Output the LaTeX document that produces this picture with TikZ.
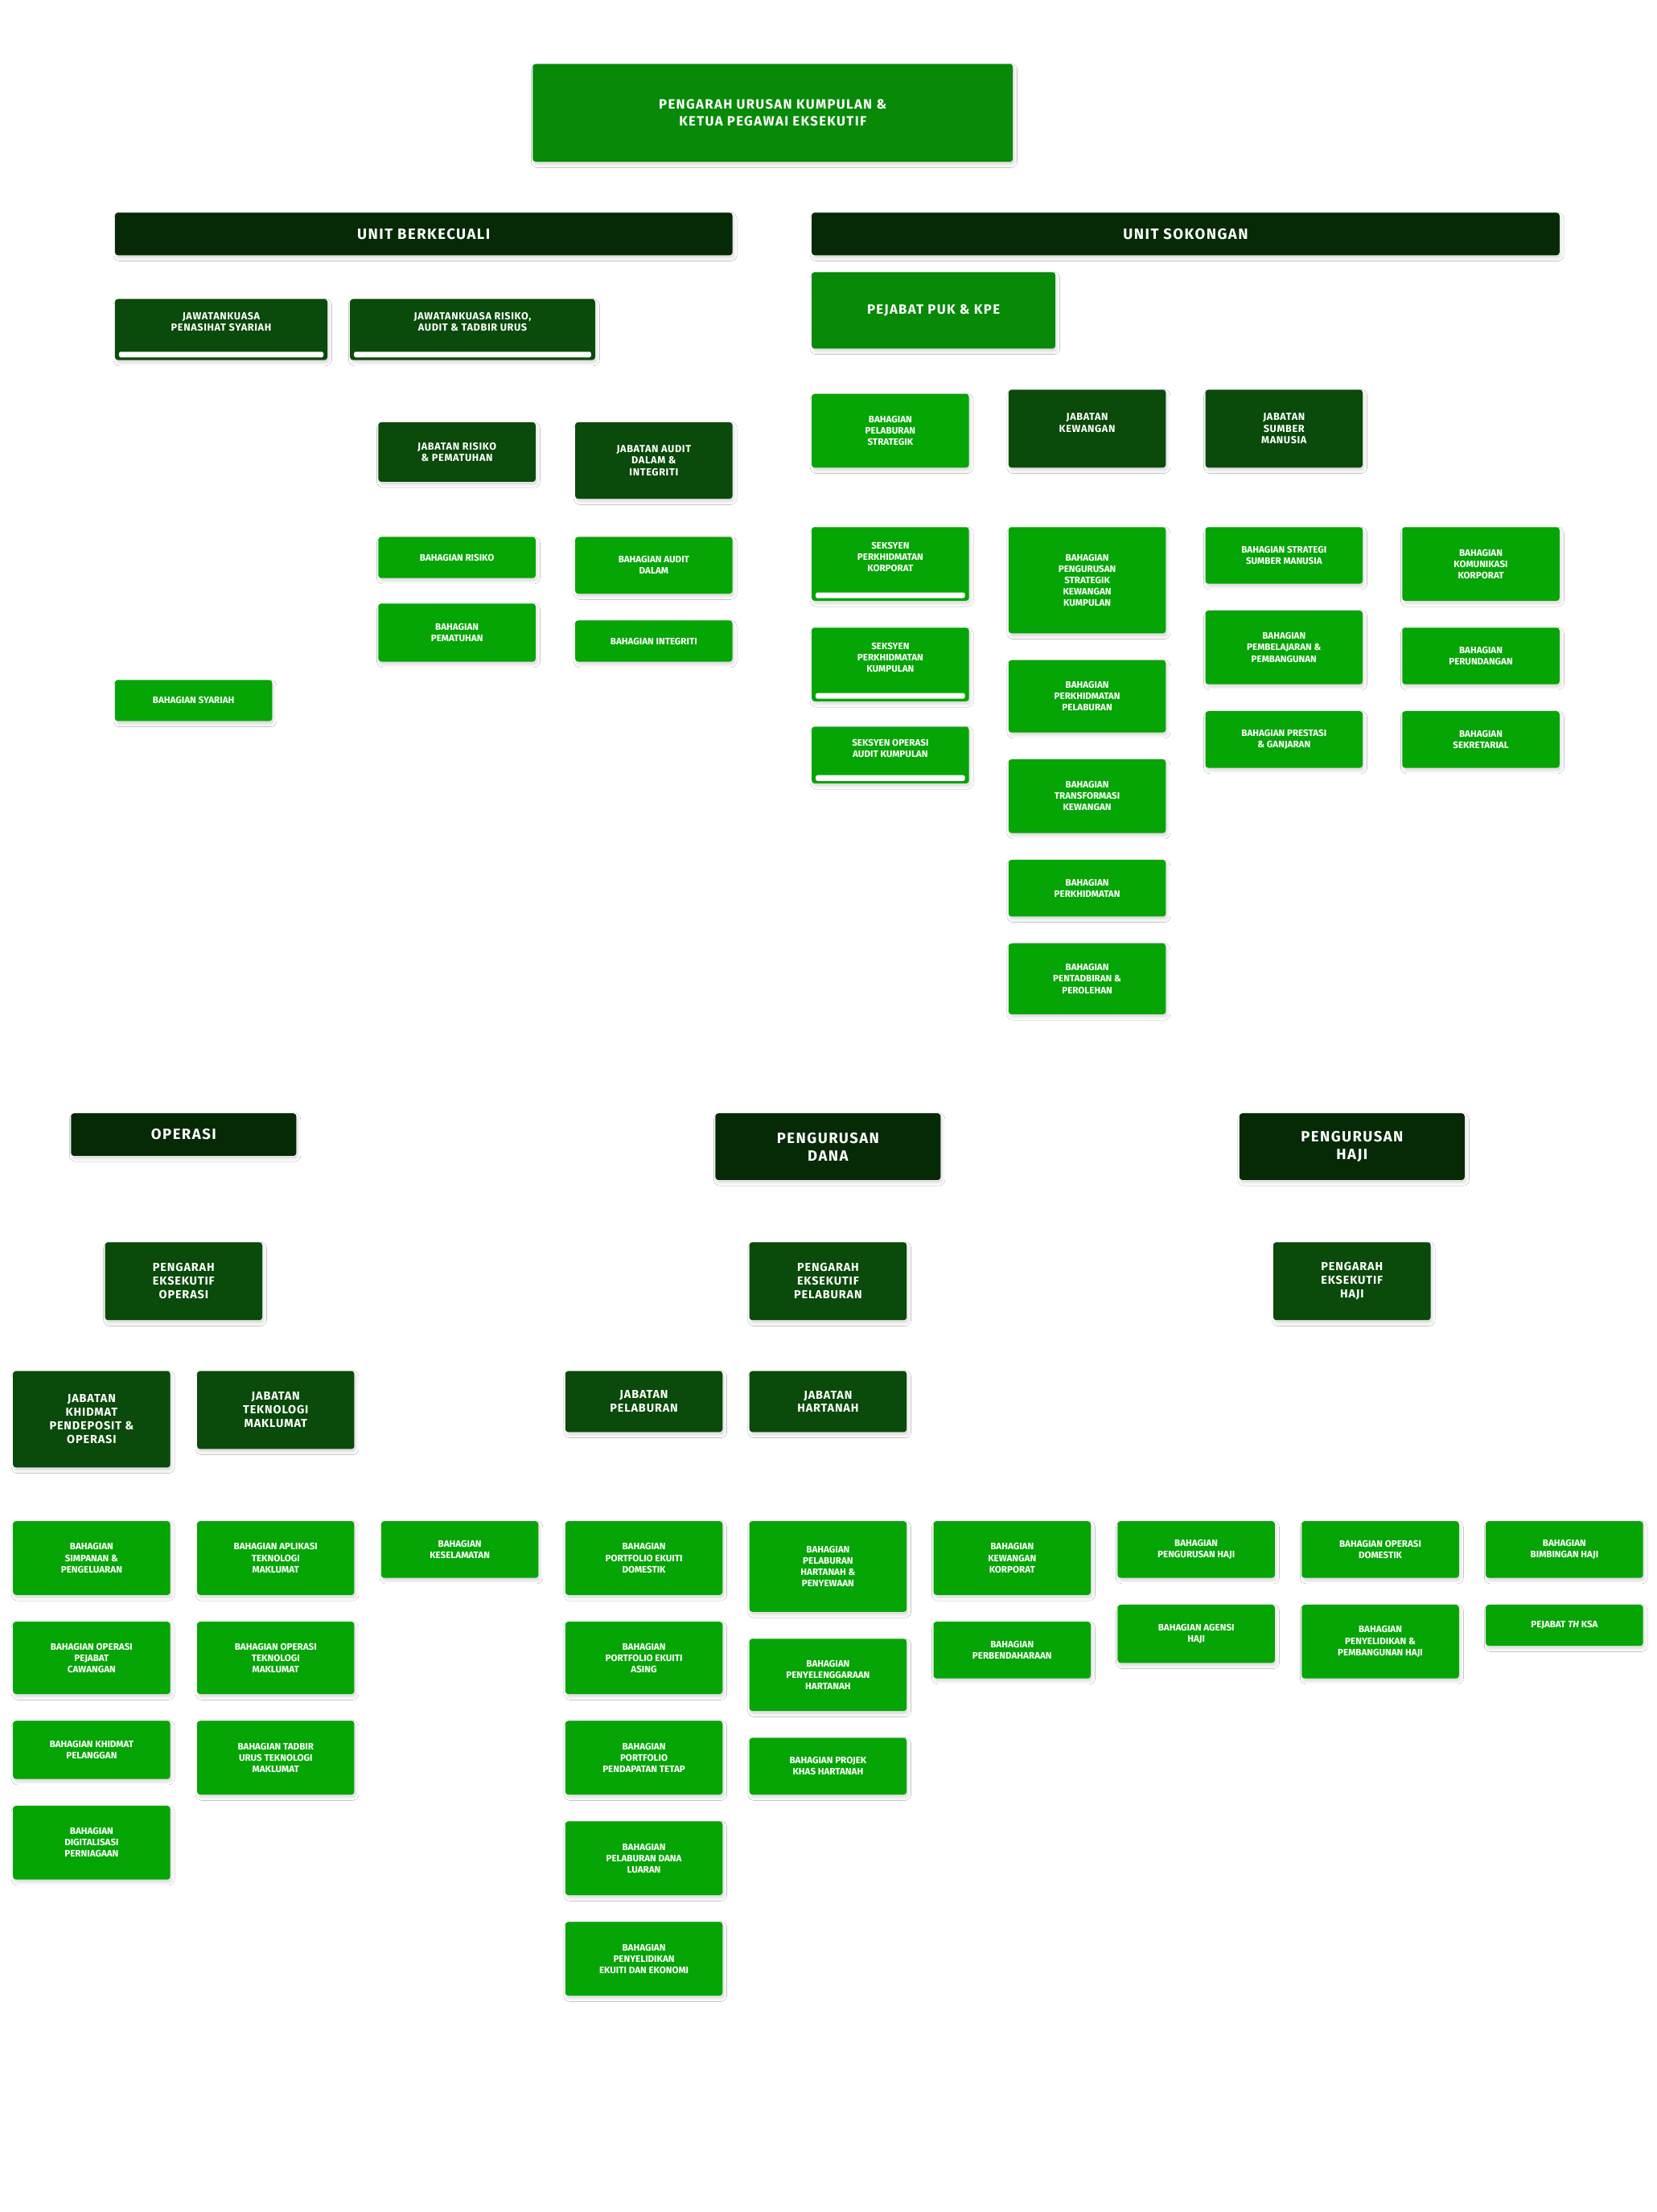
\documentclass[tikz,border=0pt]{standalone}
\usepackage{fontspec}
\setmainfont{Fira Sans}
\usetikzlibrary{calc,shadows.blur,backgrounds}
\definecolor{cb}{HTML}{06A506}
\definecolor{cd}{HTML}{0A4A0A}
\definecolor{ch}{HTML}{052A05}
\definecolor{cm}{HTML}{088A08}
\definecolor{cl}{HTML}{9A9A9A}
\newcommand\bx[7]{\node[#6,minimum width=#4pt,minimum height=#5pt,anchor=north west] (#1) at (#2,#3) {#7};}
\newcommand\wbar[1]{\fill[white,rounded corners=1pt] ($(#1.south west)+(3,-2)$) rectangle ($(#1.south east)+(-3,-6)$);}
\tikzset{
 base/.style={rounded corners=2pt,text=white,align=center,inner sep=1pt,blur shadow={shadow blur steps=5,shadow xshift=1pt,shadow yshift=-2pt,shadow opacity=15}},
 bb/.style={base,fill=cb,font=\fontsize{6.6}{8}\selectfont\bfseries},
 bd/.style={base,fill=cd,font=\fontsize{8.2}{9.6}\selectfont\bfseries\addfontfeature{LetterSpace=6}},
 bdd/.style={base,fill=cd,font=\fontsize{7.2}{8.2}\selectfont\bfseries\addfontfeature{LetterSpace=5}},
 bh/.style={base,fill=ch,font=\fontsize{10.5}{12.5}\selectfont\bfseries\addfontfeature{LetterSpace=8}},
 bm/.style={base,fill=cm,font=\fontsize{9.5}{11.5}\selectfont\bfseries\addfontfeature{LetterSpace=8}},
 ln/.style={draw=cl,line width=1.6pt},
 dl/.style={draw=cl,line width=1.6pt,dash pattern=on 2.5pt off 1.5pt},
}
\begin{document}
\begin{tikzpicture}[x=1pt,y=-1pt]
\useasboundingbox[fill=white] (0,0) rectangle (1170,1562);
% top
\bx{top}{376}{45}{339}{69}{bm}{PENGARAH URUSAN KUMPULAN \&\\KETUA PEGAWAI EKSEKUTIF}
\bx{ub}{81}{150}{436}{30}{bh}{UNIT BERKECUALI}
\bx{us}{573}{150}{528}{30}{bh}{UNIT SOKONGAN}
% unit berkecualai
\bx{jps}{81}{211}{150}{43}{bdd}{JAWATANKUASA\\PENASIHAT SYARIAH\\[3pt]}
\bx{jkr}{247}{211}{173}{43}{bdd}{JAWATANKUASA RISIKO,\\AUDIT \& TADBIR URUS\\[3pt]}
\wbar{jps}\wbar{jkr}
\bx{jrp}{267}{298}{111}{42}{bdd}{JABATAN RISIKO\\\& PEMATUHAN}
\bx{jad}{406}{298}{111}{54}{bdd}{JABATAN AUDIT\\DALAM \&\\INTEGRITI}
\bx{br}{267}{379}{111}{29}{bb}{BAHAGIAN RISIKO}
\bx{bp}{267}{426}{111}{41}{bb}{BAHAGIAN\\PEMATUHAN}
\bx{bad}{406}{379}{111}{40}{bb}{BAHAGIAN AUDIT\\DALAM}
\bx{bi}{406}{438}{111}{29}{bb}{BAHAGIAN INTEGRITI}
\bx{bs}{81}{480}{111}{29}{bb}{BAHAGIAN SYARIAH}
% unit sokongan
\bx{puk}{573}{192}{172}{54}{bm}{PEJABAT PUK \& KPE}
\bx{bps}{573}{278}{111}{52}{bb}{BAHAGIAN\\PELABURAN\\STRATEGIK}
\bx{jk}{712}{275}{111}{55}{bdd}{JABATAN\\KEWANGAN\\}
\bx{jsm}{851}{275}{111}{55}{bdd}{JABATAN\\SUMBER\\MANUSIA}
\bx{s1}{573}{372}{111}{52}{bb}{SEKSYEN\\PERKHIDMATAN\\KORPORAT\\[2pt]}
\bx{s2}{573}{443}{111}{52}{bb}{SEKSYEN\\PERKHIDMATAN\\KUMPULAN\\[2pt]}
\bx{s3}{573}{513}{111}{40}{bb}{SEKSYEN OPERASI\\AUDIT KUMPULAN\\[2pt]}
\wbar{s1}\wbar{s2}\wbar{s3}
\bx{k1}{712}{372}{111}{75}{bb}{BAHAGIAN\\PENGURUSAN\\STRATEGIK\\KEWANGAN\\KUMPULAN}
\bx{k2}{712}{466}{111}{51}{bb}{BAHAGIAN\\PERKHIDMATAN\\PELABURAN}
\bx{k3}{712}{536}{111}{52}{bb}{BAHAGIAN\\TRANSFORMASI\\KEWANGAN}
\bx{k4}{712}{607}{111}{40}{bb}{BAHAGIAN\\PERKHIDMATAN}
\bx{k5}{712}{666}{111}{50}{bb}{BAHAGIAN\\PENTADBIRAN \&\\PEROLEHAN}
\bx{m1}{851}{372}{111}{40}{bb}{BAHAGIAN STRATEGI\\SUMBER MANUSIA}
\bx{m2}{851}{431}{111}{52}{bb}{BAHAGIAN\\PEMBELAJARAN \&\\PEMBANGUNAN}
\bx{m3}{851}{502}{111}{40}{bb}{BAHAGIAN PRESTASI\\\& GANJARAN}
\bx{r1}{990}{372}{111}{52}{bb}{BAHAGIAN\\KOMUNIKASI\\KORPORAT}
\bx{r2}{990}{443}{111}{40}{bb}{BAHAGIAN\\PERUNDANGAN}
\bx{r3}{990}{502}{111}{40}{bb}{BAHAGIAN\\SEKRETARIAL}
% bottom headers
\bx{ops}{50}{786}{159}{30}{bh}{OPERASI}
\bx{dana}{505}{786}{159}{47}{bh}{PENGURUSAN\\DANA}
\bx{haji}{875}{786}{159}{47}{bh}{PENGURUSAN\\HAJI}
\bx{peo}{74}{877}{111}{55}{bd}{PENGARAH\\EKSEKUTIF\\OPERASI}
\bx{pep}{529}{877}{111}{55}{bd}{PENGARAH\\EKSEKUTIF\\PELABURAN}
\bx{peh}{899}{877}{111}{55}{bd}{PENGARAH\\EKSEKUTIF\\HAJI}
% operasi
\bx{jkpo}{9}{968}{111}{68}{bd}{JABATAN\\KHIDMAT\\PENDEPOSIT \&\\OPERASI}
\bx{jtm}{139}{968}{111}{55}{bd}{JABATAN\\TEKNOLOGI\\MAKLUMAT}
\bx{bkes}{269}{1074}{111}{40}{bb}{BAHAGIAN\\KESELAMATAN}
\bx{o1}{9}{1074}{111}{52}{bb}{BAHAGIAN\\SIMPANAN \&\\PENGELUARAN}
\bx{o2}{9}{1145}{111}{51}{bb}{BAHAGIAN OPERASI\\PEJABAT\\CAWANGAN}
\bx{o3}{9}{1215}{111}{41}{bb}{BAHAGIAN KHIDMAT\\PELANGGAN}
\bx{o4}{9}{1275}{111}{52}{bb}{BAHAGIAN\\DIGITALISASI\\PERNIAGAAN}
\bx{t1}{139}{1074}{111}{52}{bb}{BAHAGIAN APLIKASI\\TEKNOLOGI\\MAKLUMAT}
\bx{t2}{139}{1145}{111}{51}{bb}{BAHAGIAN OPERASI\\TEKNOLOGI\\MAKLUMAT}
\bx{t3}{139}{1215}{111}{52}{bb}{BAHAGIAN TADBIR\\URUS TEKNOLOGI\\MAKLUMAT}
% dana
\bx{jp}{399}{968}{111}{43}{bd}{JABATAN\\PELABURAN}
\bx{jh}{529}{968}{111}{43}{bd}{JABATAN\\HARTANAH}
\bx{p1}{399}{1074}{111}{52}{bb}{BAHAGIAN\\PORTFOLIO EKUITI\\DOMESTIK}
\bx{p2}{399}{1145}{111}{51}{bb}{BAHAGIAN\\PORTFOLIO EKUITI\\ASING}
\bx{p3}{399}{1215}{111}{52}{bb}{BAHAGIAN\\PORTFOLIO\\PENDAPATAN TETAP}
\bx{p4}{399}{1286}{111}{52}{bb}{BAHAGIAN\\PELABURAN DANA\\LUARAN}
\bx{p5}{399}{1357}{111}{52}{bb}{BAHAGIAN\\PENYELIDIKAN\\EKUITI DAN EKONOMI}
\bx{h1}{529}{1074}{111}{64}{bb}{BAHAGIAN\\PELABURAN\\HARTANAH \&\\PENYEWAAN}
\bx{h2}{529}{1157}{111}{51}{bb}{BAHAGIAN\\PENYELENGGARAAN\\HARTANAH}
\bx{h3}{529}{1227}{111}{40}{bb}{BAHAGIAN PROJEK\\KHAS HARTANAH}
\bx{w1}{659}{1074}{111}{52}{bb}{BAHAGIAN\\KEWANGAN\\KORPORAT}
\bx{w2}{659}{1145}{111}{40}{bb}{BAHAGIAN\\PERBENDAHARAAN}
% haji
\bx{j1}{789}{1074}{111}{40}{bb}{BAHAGIAN\\PENGURUSAN HAJI}
\bx{j2}{789}{1133}{111}{41}{bb}{BAHAGIAN AGENSI\\HAJI}
\bx{j3}{919}{1074}{111}{40}{bb}{BAHAGIAN OPERASI\\DOMESTIK}
\bx{j4}{919}{1133}{111}{52}{bb}{BAHAGIAN\\PENYELIDIKAN \&\\PEMBANGUNAN HAJI}
\bx{j5}{1049}{1074}{111}{40}{bb}{BAHAGIAN\\BIMBINGAN HAJI}
\bx{j6}{1049}{1133}{111}{29}{bb}{PEJABAT \textit{TH} KSA}
\begin{pgfonlayer}{background}
% trunk
\coordinate (tb) at (545,758);
\draw[ln] (top.south) -- (tb);
\draw[ln] (ops.north) |- (haji.north |- tb) -- (haji.north);
\draw[ln] (dana.north) -- (dana.north |- tb);
% berkecualai
\draw[ln] (jps.south -| 93,0) -- (bs.north -| 93,0);
\draw[dl] (bs.east) -- (bs.east -| tb);
\draw[ln] (jkr.south -| 259,0) |- (jrp.west);
\draw[ln] (jkr.south -| 398,0) |- (jad.west);
\draw[dl] (jrp.north) |- (545,276);
\draw[dl] (jad.north) -- (jad.north |- 0,276);
\draw[ln] (jrp.south) |- (259,365) |- (bp.west);
\draw[ln] (259,365) |- (br.west);
\draw[ln] (jad.south) |- (398,365) |- (bi.west);
\draw[ln] (398,365) |- (bad.west);
% sokongan
\draw[ln] (puk.west) -- (puk.west -| tb);
\draw[ln] (puk.east) -| (1046,355) -| (982,521) -- (r3.west);
\draw[ln] (982,398) -- (r1.west);
\draw[ln] (982,463) -- (r2.west);
\draw[ln] (545,259) -| (jsm.north);
\draw[ln] (bps.north) -- (bps.north |- 0,259);
\draw[ln] (jk.north) -- (jk.north |- 0,259);
\draw[ln] (bps.south) |- (565,355) |- (s3.west);
\draw[ln] (565,398) -- (s1.west); \draw[ln] (565,469) -- (s2.west);
\draw[ln] (jk.south) |- (704,355) |- (k5.west);
\foreach \k in {k1,k2,k3,k4} \draw[ln] (704,0 |- \k.west) -- (\k.west);
\draw[ln] (jsm.south) |- (843,355) |- (m3.west);
\foreach \k in {m1,m2} \draw[ln] (843,0 |- \k.west) -- (\k.west);
% operasi
\draw[ln] (ops.south) -- (peo.north);
\draw[ln] (peo.south) |- (64,950) -| (jkpo.north);
\draw[ln] (64,950) -| (bkes.north);
\draw[ln] (jtm.north) -- (jtm.north |- 0,950);
\draw[ln] (jkpo.south) |- (1,1050) |- (o4.west);
\foreach \k in {o1,o2,o3} \draw[ln] (1,0 |- \k.west) -- (\k.west);
\draw[ln] (jtm.south) |- (131,1050) |- (t3.west);
\foreach \k in {t1,t2} \draw[ln] (131,0 |- \k.west) -- (\k.west);
% dana
\draw[ln] (dana.south) -- (pep.north);
\draw[ln] (pep.south) |- (455,950) -- (jp.north);
\draw[ln] (pep.south |- 0,950) -| (715,1050) -| (651,1165) -- (w2.west);
\draw[ln] (651,0 |- w1.west) -- (w1.west);
\draw[ln] (jh.north) -- (jh.north |- 0,950);
\draw[ln] (jp.south) |- (391,1050) |- (p5.west);
\foreach \k in {p1,p2,p3,p4} \draw[ln] (391,0 |- \k.west) -- (\k.west);
\draw[ln] (jh.south) |- (521,1050) |- (h3.west);
\foreach \k in {h1,h2} \draw[ln] (521,0 |- \k.west) -- (\k.west);
% haji
\draw[ln] (haji.south) -- (peh.north);
\draw[ln] (peh.south) -- (peh.south |- 0,1050);
\draw[ln] (781,1050) -- (1105,1050);
\draw[ln] (j1.north) -- (j1.north |- 0,1050);
\draw[ln] (j3.north) -- (j3.north |- 0,1050);
\draw[ln] (j5.north) -- (j5.north |- 0,1050);
\draw[ln] (781,1050) |- (j2.west);
\draw[ln] (911,1050) |- (j4.west);
\draw[ln] (1041,1050) |- (j6.west);
\end{pgfonlayer}
\end{tikzpicture}
\end{document}
